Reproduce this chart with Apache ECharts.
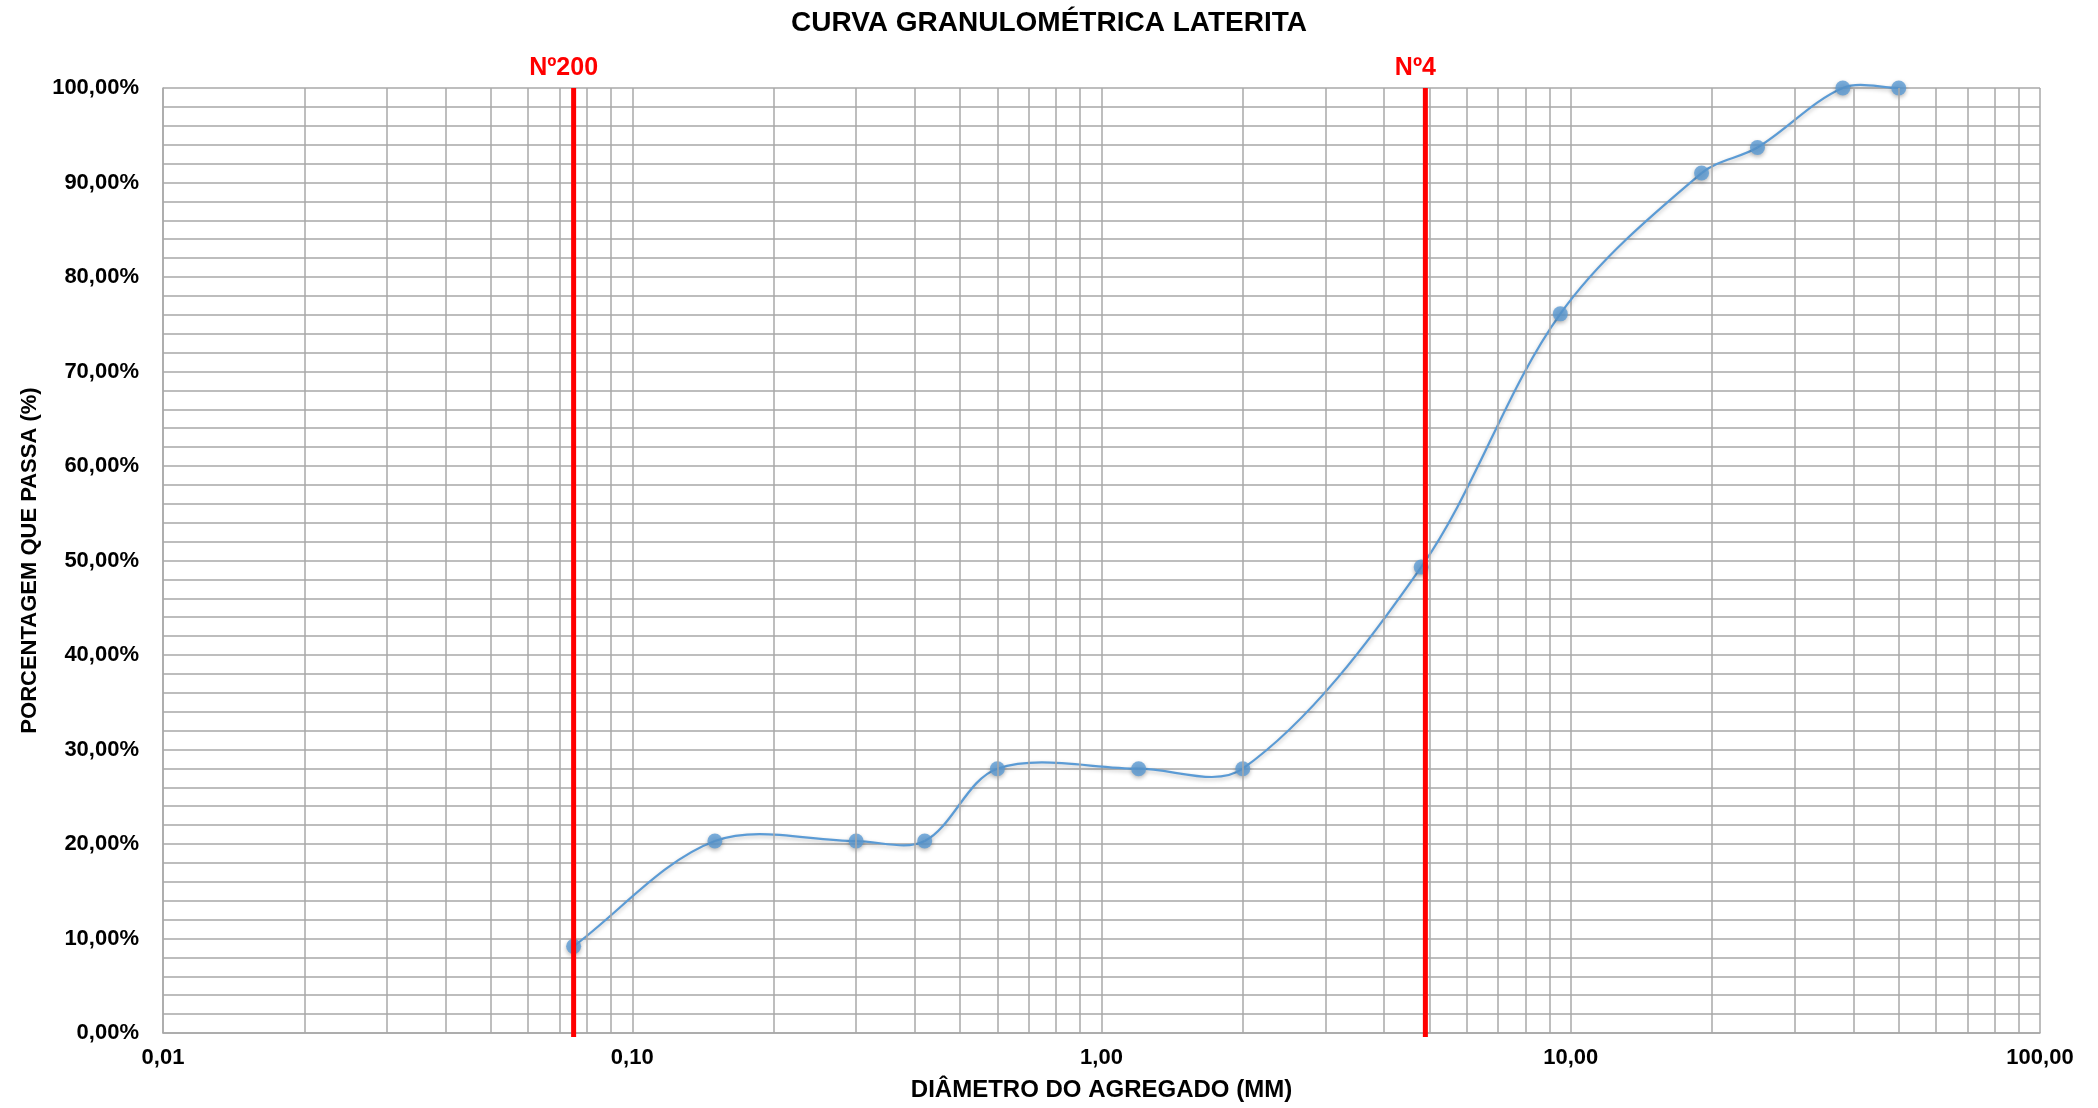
<!DOCTYPE html>
<html>
<head>
<meta charset="utf-8">
<script src="https://cdn.jsdelivr.net/npm/echarts@6/dist/echarts.min.js"></script>
<style>
html,body{margin:0;padding:0;background:#fff;}
#chart{width:2098px;height:1108px;}
</style>
</head>
<body>
<div id="chart"></div>
<script>
// sieve openings (mm) and percent passing
var diameters = [0.075, 0.15, 0.30, 0.42, 0.60, 1.20, 2.00, 4.80, 9.50, 19.0, 25.0, 38.0, 50.0];
var passing   = [9.17, 20.31, 20.31, 20.31, 27.97, 27.97, 27.97, 49.3, 76.1, 91.0, 93.7, 100.0, 100.0];

// reference sieves
var sieveNames = ['Nº200', 'Nº4'];
var sieveSizes = [0.075, 4.9];

// minor vertical grid values (log decades)
var minorXTicks = [
  0.02,0.03,0.04,0.05,0.06,0.07,0.08,0.09,
  0.2,0.3,0.4,0.5,0.6,0.7,0.8,0.9,
  2,3,4,5,6,7,8,9,
  20,30,40,50,60,70,80,90
];

var FONT = '"Liberation Sans", Arial, sans-serif';
var GRID_COLOR = '#a8a8a8';
var BLUE = '#5b9bd5';

var points = diameters.map(function (d, i) { return [d, passing[i]]; });
var n = points.length;

function dist(a, b) { return Math.sqrt((a[0] - b[0]) * (a[0] - b[0]) + (a[1] - b[1]) * (a[1] - b[1])); }

// Excel-like smoothed segment (distance-weighted cardinal Bezier) between point i and i+1
function renderCurve(params, api) {
  var i = params.dataIndex;
  if (i >= n - 1) return null;
  var p0 = api.coord(points[Math.max(i - 1, 0)]);
  var p1 = api.coord(points[i]);
  var p2 = api.coord(points[i + 1]);
  var p3 = api.coord(points[Math.min(i + 2, n - 1)]);
  var k = 1 / 3;
  var d01 = dist(p0, p1), d12 = dist(p1, p2), d23 = dist(p2, p3);
  var r1 = d12 / ((d01 + d12) || 1);
  var r2 = d12 / ((d12 + d23) || 1);
  return {
    type: 'bezierCurve',
    shape: {
      x1: p1[0], y1: p1[1], x2: p2[0], y2: p2[1],
      cpx1: p1[0] + (p2[0] - p0[0]) * k * r1, cpy1: p1[1] + (p2[1] - p0[1]) * k * r1,
      cpx2: p2[0] - (p3[0] - p1[0]) * k * r2, cpy2: p2[1] - (p3[1] - p1[1]) * k * r2
    },
    style: {
      stroke: BLUE, lineWidth: 2.2, fill: null,
      shadowColor: 'rgba(0,0,0,0.25)', shadowBlur: 4, shadowOffsetY: 2
    }
  };
}

function renderSieve(params, api) {
  var x = api.value(0);
  var top = api.coord([x, 100]);
  var bottom = api.coord([x, 0]);
  return {
    type: 'group',
    children: [
      {
        type: 'line',
        shape: { x1: top[0], y1: top[1], x2: bottom[0], y2: bottom[1] + 4 },
        style: { stroke: '#ff0000', lineWidth: 5 }
      },
      {
        type: 'text',
        x: top[0] - 10,
        y: top[1] - 7,
        style: {
          text: sieveNames[params.dataIndex],
          fill: '#ff0000',
          font: 'bold 25px ' + FONT,
          align: 'center',
          verticalAlign: 'bottom'
        }
      }
    ]
  };
}

var chart = echarts.init(document.getElementById('chart'));
chart.setOption({
  animation: false,
  backgroundColor: '#ffffff',
  title: {
    text: 'CURVA GRANULOMÉTRICA LATERITA',
    left: 'center',
    top: 4,
    textStyle: { fontFamily: FONT, fontSize: 28, fontWeight: 'bold', color: '#000' }
  },
  grid: { left: 163, right: 58, top: 88, bottom: 75, containLabel: false },
  xAxis: {
    type: 'log',
    logBase: 10,
    min: 0.01,
    max: 100,
    name: 'DIÂMETRO DO AGREGADO (MM)',
    nameLocation: 'middle',
    nameGap: 45,
    nameTextStyle: { fontFamily: FONT, fontSize: 24, fontWeight: 'bold', color: '#000' },
    axisLine: { show: true, lineStyle: { color: GRID_COLOR, width: 1.5 } },
    axisTick: { show: false },
    axisLabel: {
      margin: 14,
      fontFamily: FONT, fontSize: 22, fontWeight: 'bold', color: '#000',
      formatter: function (v) { return v.toFixed(2).replace('.', ','); }
    },
    splitLine: { show: true, lineStyle: { color: GRID_COLOR, width: 1.5 } }
  },
  yAxis: {
    type: 'value',
    min: 0,
    max: 100,
    interval: 10,
    name: 'PORCENTAGEM QUE PASSA (%)',
    nameLocation: 'middle',
    nameGap: 122,
    nameTextStyle: { fontFamily: FONT, fontSize: 22, fontWeight: 'bold', color: '#000' },
    axisLine: { show: true, lineStyle: { color: GRID_COLOR, width: 1.5 } },
    axisTick: { show: false },
    axisLabel: {
      margin: 24,
      fontFamily: FONT, fontSize: 22, fontWeight: 'bold', color: '#000',
      formatter: function (v) { return v.toFixed(2).replace('.', ',') + '%'; }
    },
    splitLine: { show: true, lineStyle: { color: GRID_COLOR, width: 1.5 } },
    minorTick: { show: false, splitNumber: 5 },
    minorSplitLine: { show: true, lineStyle: { color: GRID_COLOR, width: 1.5 } }
  },
  series: [
    {
      name: 'minorGrid',
      type: 'line',
      data: [],
      z: 1,
      silent: true,
      markLine: {
        silent: true,
        symbol: ['none', 'none'],
        label: { show: false },
        lineStyle: { color: GRID_COLOR, width: 1.5, type: 'solid' },
        emphasis: { disabled: true },
        data: minorXTicks.map(function (v) { return { xAxis: v }; })
      }
    },
    {
      name: 'curve',
      type: 'custom',
      data: points,
      z: 3,
      silent: true,
      renderItem: renderCurve,
      encode: { x: 0, y: 1 }
    },
    {
      name: 'Laterita',
      type: 'scatter',
      data: points,
      z: 4,
      symbol: 'circle',
      symbolSize: 15,
      itemStyle: {
        color: BLUE,
        shadowColor: 'rgba(0,0,0,0.35)', shadowBlur: 4, shadowOffsetY: 2
      }
    },
    {
      name: 'sieves',
      type: 'custom',
      data: sieveSizes.map(function (v) { return [v, 100]; }),
      z: 5,
      silent: true,
      clip: false,
      renderItem: renderSieve,
      encode: { x: 0, y: 1 }
    }
  ]
});
</script>
</body>
</html>
